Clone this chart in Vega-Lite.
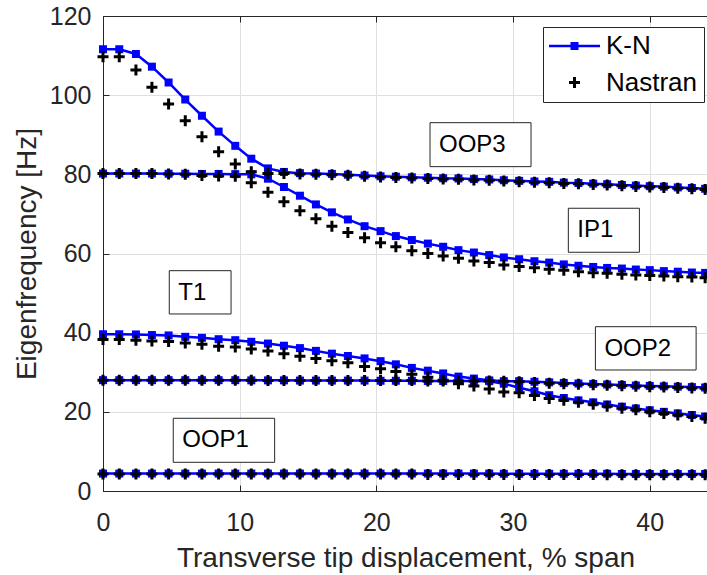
{
"$schema":"https://vega.github.io/schema/vega-lite/v6.json",
"width":605,"height":475,
"autosize":{"type":"none"},
"padding":{"left":103,"top":16,"right":0,"bottom":84},
"background":"white",
"config":{
 "view":{"stroke":null},
 "font":"Liberation Sans",
 "axis":{"domainColor":"#262626","domainWidth":1,"tickColor":"#262626","tickWidth":1,"labelColor":"#262626","labelFont":"Liberation Sans","labelFontSize":25,"titleFont":"Liberation Sans","titleFontSize":28,"titleFontWeight":"normal","titleColor":"#262626","gridColor":"#dfdfdf","gridWidth":1}
},
"resolve":{"axis":{"x":"independent"}},
"datasets":{
"notes":[
{"label":"OOP3","x0":23.93,"x1":31.32,"y0":93.05,"y1":81.94},
{"label":"IP1","x0":34.05,"x1":39.25,"y0":71.43,"y1":60.31},
{"label":"T1","x0":4.85,"x1":9.37,"y0":55.66,"y1":44.72},
{"label":"OOP2","x0":36.03,"x1":43.4,"y0":41.51,"y1":30.57},
{"label":"OOP1","x0":5.14,"x1":12.56,"y0":18.37,"y1":7.25}
],
"pts":[
{"s":"K-N","m":1,"x":0,"f":4.4},{"s":"K-N","m":1,"x":1.19,"f":4.4},{"s":"K-N","m":1,"x":2.41,"f":4.4},{"s":"K-N","m":1,"x":3.58,"f":4.4},{"s":"K-N","m":1,"x":4.8,"f":4.4},{"s":"K-N","m":1,"x":6.02,"f":4.4},{"s":"K-N","m":1,"x":7.24,"f":4.4},{"s":"K-N","m":1,"x":8.46,"f":4.4},{"s":"K-N","m":1,"x":9.68,"f":4.4},{"s":"K-N","m":1,"x":10.85,"f":4.4},
{"s":"K-N","m":1,"x":12.07,"f":4.4},{"s":"K-N","m":1,"x":13.24,"f":4.4},{"s":"K-N","m":1,"x":14.41,"f":4.4},{"s":"K-N","m":1,"x":15.58,"f":4.4},{"s":"K-N","m":1,"x":16.75,"f":4.4},{"s":"K-N","m":1,"x":17.92,"f":4.4},{"s":"K-N","m":1,"x":19.14,"f":4.4},{"s":"K-N","m":1,"x":20.31,"f":4.4},{"s":"K-N","m":1,"x":21.43,"f":4.4},{"s":"K-N","m":1,"x":22.6,"f":4.4},
{"s":"K-N","m":1,"x":23.77,"f":4.4},{"s":"K-N","m":1,"x":24.89,"f":4.4},{"s":"K-N","m":1,"x":26.01,"f":4.4},{"s":"K-N","m":1,"x":27.14,"f":4.4},{"s":"K-N","m":1,"x":28.26,"f":4.4},{"s":"K-N","m":1,"x":29.33,"f":4.35},{"s":"K-N","m":1,"x":30.45,"f":4.35},{"s":"K-N","m":1,"x":31.57,"f":4.35},{"s":"K-N","m":1,"x":32.65,"f":4.35},{"s":"K-N","m":1,"x":33.72,"f":4.35},
{"s":"K-N","m":1,"x":34.79,"f":4.35},{"s":"K-N","m":1,"x":35.87,"f":4.35},{"s":"K-N","m":1,"x":36.89,"f":4.35},{"s":"K-N","m":1,"x":37.97,"f":4.3},{"s":"K-N","m":1,"x":38.99,"f":4.3},{"s":"K-N","m":1,"x":40.01,"f":4.3},{"s":"K-N","m":1,"x":41.04,"f":4.3},{"s":"K-N","m":1,"x":42.06,"f":4.3},{"s":"K-N","m":1,"x":43.09,"f":4.3},{"s":"K-N","m":1,"x":44.06,"f":4.3},
{"s":"K-N","m":2,"x":0,"f":28},{"s":"K-N","m":2,"x":1.19,"f":28},{"s":"K-N","m":2,"x":2.41,"f":28},{"s":"K-N","m":2,"x":3.58,"f":28},{"s":"K-N","m":2,"x":4.8,"f":28},{"s":"K-N","m":2,"x":6.02,"f":28},{"s":"K-N","m":2,"x":7.24,"f":28},{"s":"K-N","m":2,"x":8.46,"f":28},{"s":"K-N","m":2,"x":9.68,"f":28},{"s":"K-N","m":2,"x":10.85,"f":27.95},
{"s":"K-N","m":2,"x":12.07,"f":27.95},{"s":"K-N","m":2,"x":13.24,"f":27.95},{"s":"K-N","m":2,"x":14.41,"f":27.9},{"s":"K-N","m":2,"x":15.58,"f":27.9},{"s":"K-N","m":2,"x":16.75,"f":27.9},{"s":"K-N","m":2,"x":17.92,"f":27.9},{"s":"K-N","m":2,"x":19.14,"f":27.9},{"s":"K-N","m":2,"x":20.31,"f":27.85},{"s":"K-N","m":2,"x":21.43,"f":27.85},{"s":"K-N","m":2,"x":22.6,"f":27.85},
{"s":"K-N","m":2,"x":23.77,"f":27.8},{"s":"K-N","m":2,"x":24.89,"f":27.8},{"s":"K-N","m":2,"x":26.01,"f":27.8},{"s":"K-N","m":2,"x":27.14,"f":27.8},{"s":"K-N","m":2,"x":28.26,"f":27.75},{"s":"K-N","m":2,"x":29.33,"f":27.1},{"s":"K-N","m":2,"x":30.45,"f":26.1},{"s":"K-N","m":2,"x":31.57,"f":25.2},{"s":"K-N","m":2,"x":32.65,"f":24.2},{"s":"K-N","m":2,"x":33.72,"f":23.5},
{"s":"K-N","m":2,"x":34.79,"f":22.9},{"s":"K-N","m":2,"x":35.87,"f":22.4},{"s":"K-N","m":2,"x":36.89,"f":21.85},{"s":"K-N","m":2,"x":37.97,"f":21.3},{"s":"K-N","m":2,"x":38.99,"f":20.85},{"s":"K-N","m":2,"x":40.01,"f":20.4},{"s":"K-N","m":2,"x":41.04,"f":20.0},{"s":"K-N","m":2,"x":42.06,"f":19.6},{"s":"K-N","m":2,"x":43.09,"f":19.2},{"s":"K-N","m":2,"x":44.06,"f":18.8},
{"s":"K-N","m":3,"x":0,"f":39.6},{"s":"K-N","m":3,"x":1.19,"f":39.6},{"s":"K-N","m":3,"x":2.41,"f":39.55},{"s":"K-N","m":3,"x":3.58,"f":39.4},{"s":"K-N","m":3,"x":4.8,"f":39.3},{"s":"K-N","m":3,"x":6.02,"f":38.95},{"s":"K-N","m":3,"x":7.24,"f":38.7},{"s":"K-N","m":3,"x":8.46,"f":38.35},{"s":"K-N","m":3,"x":9.68,"f":38.1},{"s":"K-N","m":3,"x":10.85,"f":37.7},
{"s":"K-N","m":3,"x":12.07,"f":37.25},{"s":"K-N","m":3,"x":13.24,"f":36.7},{"s":"K-N","m":3,"x":14.41,"f":36.1},{"s":"K-N","m":3,"x":15.58,"f":35.4},{"s":"K-N","m":3,"x":16.75,"f":34.7},{"s":"K-N","m":3,"x":17.92,"f":34.1},{"s":"K-N","m":3,"x":19.14,"f":33.5},{"s":"K-N","m":3,"x":20.31,"f":32.8},{"s":"K-N","m":3,"x":21.43,"f":32.0},{"s":"K-N","m":3,"x":22.6,"f":31.1},
{"s":"K-N","m":3,"x":23.77,"f":30.4},{"s":"K-N","m":3,"x":24.89,"f":29.7},{"s":"K-N","m":3,"x":26.01,"f":28.9},{"s":"K-N","m":3,"x":27.14,"f":28.4},{"s":"K-N","m":3,"x":28.26,"f":27.95},{"s":"K-N","m":3,"x":29.33,"f":27.75},{"s":"K-N","m":3,"x":30.45,"f":27.75},{"s":"K-N","m":3,"x":31.57,"f":27.6},{"s":"K-N","m":3,"x":32.65,"f":27.45},{"s":"K-N","m":3,"x":33.72,"f":27.3},
{"s":"K-N","m":3,"x":34.79,"f":27.15},{"s":"K-N","m":3,"x":35.87,"f":27.05},{"s":"K-N","m":3,"x":36.89,"f":26.9},{"s":"K-N","m":3,"x":37.97,"f":26.8},{"s":"K-N","m":3,"x":38.99,"f":26.65},{"s":"K-N","m":3,"x":40.01,"f":26.55},{"s":"K-N","m":3,"x":41.04,"f":26.45},{"s":"K-N","m":3,"x":42.06,"f":26.35},{"s":"K-N","m":3,"x":43.09,"f":26.25},{"s":"K-N","m":3,"x":44.06,"f":26.15},
{"s":"K-N","m":4,"x":0,"f":80.2},{"s":"K-N","m":4,"x":1.19,"f":80.2},{"s":"K-N","m":4,"x":2.41,"f":80.2},{"s":"K-N","m":4,"x":3.58,"f":80.2},{"s":"K-N","m":4,"x":4.8,"f":80.15},{"s":"K-N","m":4,"x":6.02,"f":80.15},{"s":"K-N","m":4,"x":7.24,"f":80.1},{"s":"K-N","m":4,"x":8.46,"f":80.1},{"s":"K-N","m":4,"x":9.68,"f":80.05},{"s":"K-N","m":4,"x":10.85,"f":80.0},
{"s":"K-N","m":4,"x":12.07,"f":78.9},{"s":"K-N","m":4,"x":13.24,"f":76.8},{"s":"K-N","m":4,"x":14.41,"f":74.6},{"s":"K-N","m":4,"x":15.58,"f":72.4},{"s":"K-N","m":4,"x":16.75,"f":70.4},{"s":"K-N","m":4,"x":17.92,"f":68.6},{"s":"K-N","m":4,"x":19.14,"f":66.9},{"s":"K-N","m":4,"x":20.31,"f":65.65},{"s":"K-N","m":4,"x":21.43,"f":64.4},{"s":"K-N","m":4,"x":22.6,"f":63.4},
{"s":"K-N","m":4,"x":23.77,"f":62.5},{"s":"K-N","m":4,"x":24.89,"f":61.7},{"s":"K-N","m":4,"x":26.01,"f":60.85},{"s":"K-N","m":4,"x":27.14,"f":60.25},{"s":"K-N","m":4,"x":28.26,"f":59.6},{"s":"K-N","m":4,"x":29.33,"f":59.0},{"s":"K-N","m":4,"x":30.45,"f":58.55},{"s":"K-N","m":4,"x":31.57,"f":58.05},{"s":"K-N","m":4,"x":32.65,"f":57.7},{"s":"K-N","m":4,"x":33.72,"f":57.25},
{"s":"K-N","m":4,"x":34.79,"f":56.9},{"s":"K-N","m":4,"x":35.87,"f":56.6},{"s":"K-N","m":4,"x":36.89,"f":56.35},{"s":"K-N","m":4,"x":37.97,"f":56.2},{"s":"K-N","m":4,"x":38.99,"f":55.95},{"s":"K-N","m":4,"x":40.01,"f":55.8},{"s":"K-N","m":4,"x":41.04,"f":55.55},{"s":"K-N","m":4,"x":42.06,"f":55.4},{"s":"K-N","m":4,"x":43.09,"f":55.2},{"s":"K-N","m":4,"x":44.06,"f":55.1},
{"s":"K-N","m":5,"x":0,"f":111.6},{"s":"K-N","m":5,"x":1.19,"f":111.6},{"s":"K-N","m":5,"x":2.41,"f":110.4},{"s":"K-N","m":5,"x":3.58,"f":107.2},{"s":"K-N","m":5,"x":4.8,"f":103.2},{"s":"K-N","m":5,"x":6.02,"f":98.9},{"s":"K-N","m":5,"x":7.24,"f":94.8},{"s":"K-N","m":5,"x":8.46,"f":90.8},{"s":"K-N","m":5,"x":9.68,"f":87.2},{"s":"K-N","m":5,"x":10.85,"f":83.95},
{"s":"K-N","m":5,"x":12.07,"f":81.5},{"s":"K-N","m":5,"x":13.24,"f":80.6},{"s":"K-N","m":5,"x":14.41,"f":80.3},{"s":"K-N","m":5,"x":15.58,"f":80.2},{"s":"K-N","m":5,"x":16.75,"f":80.1},{"s":"K-N","m":5,"x":17.92,"f":79.9},{"s":"K-N","m":5,"x":19.14,"f":79.7},{"s":"K-N","m":5,"x":20.31,"f":79.5},{"s":"K-N","m":5,"x":21.43,"f":79.4},{"s":"K-N","m":5,"x":22.6,"f":79.25},
{"s":"K-N","m":5,"x":23.77,"f":79.15},{"s":"K-N","m":5,"x":24.89,"f":79.0},{"s":"K-N","m":5,"x":26.01,"f":78.95},{"s":"K-N","m":5,"x":27.14,"f":78.8},{"s":"K-N","m":5,"x":28.26,"f":78.7},{"s":"K-N","m":5,"x":29.33,"f":78.5},{"s":"K-N","m":5,"x":30.45,"f":78.35},{"s":"K-N","m":5,"x":31.57,"f":78.2},{"s":"K-N","m":5,"x":32.65,"f":78.1},{"s":"K-N","m":5,"x":33.72,"f":77.9},
{"s":"K-N","m":5,"x":34.79,"f":77.8},{"s":"K-N","m":5,"x":35.87,"f":77.65},{"s":"K-N","m":5,"x":36.89,"f":77.5},{"s":"K-N","m":5,"x":37.97,"f":77.3},{"s":"K-N","m":5,"x":38.99,"f":77.15},{"s":"K-N","m":5,"x":40.01,"f":77.0},{"s":"K-N","m":5,"x":41.04,"f":76.9},{"s":"K-N","m":5,"x":42.06,"f":76.7},{"s":"K-N","m":5,"x":43.09,"f":76.55},{"s":"K-N","m":5,"x":44.06,"f":76.35},
{"s":"Nastran","m":1,"x":0,"f":4.3},{"s":"Nastran","m":1,"x":1.19,"f":4.3},{"s":"Nastran","m":1,"x":2.41,"f":4.3},{"s":"Nastran","m":1,"x":3.58,"f":4.3},{"s":"Nastran","m":1,"x":4.8,"f":4.3},{"s":"Nastran","m":1,"x":6.02,"f":4.3},{"s":"Nastran","m":1,"x":7.24,"f":4.3},{"s":"Nastran","m":1,"x":8.46,"f":4.3},{"s":"Nastran","m":1,"x":9.68,"f":4.3},{"s":"Nastran","m":1,"x":10.85,"f":4.3},
{"s":"Nastran","m":1,"x":12.07,"f":4.3},{"s":"Nastran","m":1,"x":13.24,"f":4.3},{"s":"Nastran","m":1,"x":14.41,"f":4.3},{"s":"Nastran","m":1,"x":15.58,"f":4.3},{"s":"Nastran","m":1,"x":16.75,"f":4.3},{"s":"Nastran","m":1,"x":17.92,"f":4.3},{"s":"Nastran","m":1,"x":19.14,"f":4.3},{"s":"Nastran","m":1,"x":20.31,"f":4.3},{"s":"Nastran","m":1,"x":21.43,"f":4.3},{"s":"Nastran","m":1,"x":22.6,"f":4.3},
{"s":"Nastran","m":1,"x":23.77,"f":4.2},{"s":"Nastran","m":1,"x":24.89,"f":4.2},{"s":"Nastran","m":1,"x":26.01,"f":4.2},{"s":"Nastran","m":1,"x":27.14,"f":4.2},{"s":"Nastran","m":1,"x":28.26,"f":4.2},{"s":"Nastran","m":1,"x":29.33,"f":4.2},{"s":"Nastran","m":1,"x":30.45,"f":4.2},{"s":"Nastran","m":1,"x":31.57,"f":4.2},{"s":"Nastran","m":1,"x":32.65,"f":4.2},{"s":"Nastran","m":1,"x":33.72,"f":4.2},
{"s":"Nastran","m":1,"x":34.79,"f":4.2},{"s":"Nastran","m":1,"x":35.87,"f":4.2},{"s":"Nastran","m":1,"x":36.89,"f":4.1},{"s":"Nastran","m":1,"x":37.97,"f":4.1},{"s":"Nastran","m":1,"x":38.99,"f":4.1},{"s":"Nastran","m":1,"x":40.01,"f":4.1},{"s":"Nastran","m":1,"x":41.04,"f":4.1},{"s":"Nastran","m":1,"x":42.06,"f":4.1},{"s":"Nastran","m":1,"x":43.09,"f":4.1},{"s":"Nastran","m":1,"x":44.06,"f":4.1},
{"s":"Nastran","m":2,"x":0,"f":38.3},{"s":"Nastran","m":2,"x":1.19,"f":38.3},{"s":"Nastran","m":2,"x":2.41,"f":38.1},{"s":"Nastran","m":2,"x":3.58,"f":37.9},{"s":"Nastran","m":2,"x":4.8,"f":37.8},{"s":"Nastran","m":2,"x":6.02,"f":37.4},{"s":"Nastran","m":2,"x":7.24,"f":37.1},{"s":"Nastran","m":2,"x":8.46,"f":36.6},{"s":"Nastran","m":2,"x":9.68,"f":36.4},{"s":"Nastran","m":2,"x":10.85,"f":35.9},
{"s":"Nastran","m":2,"x":12.07,"f":35.4},{"s":"Nastran","m":2,"x":13.24,"f":34.7},{"s":"Nastran","m":2,"x":14.41,"f":34.05},{"s":"Nastran","m":2,"x":15.58,"f":33.5},{"s":"Nastran","m":2,"x":16.75,"f":32.9},{"s":"Nastran","m":2,"x":17.92,"f":32.4},{"s":"Nastran","m":2,"x":19.14,"f":31.45},{"s":"Nastran","m":2,"x":20.31,"f":30.9},{"s":"Nastran","m":2,"x":21.43,"f":30.2},{"s":"Nastran","m":2,"x":22.6,"f":29.5},
{"s":"Nastran","m":2,"x":23.77,"f":28.75},{"s":"Nastran","m":2,"x":24.89,"f":27.98},{"s":"Nastran","m":2,"x":26.01,"f":27.1},{"s":"Nastran","m":2,"x":27.14,"f":26.5},{"s":"Nastran","m":2,"x":28.26,"f":25.8},{"s":"Nastran","m":2,"x":29.33,"f":25.03},{"s":"Nastran","m":2,"x":30.45,"f":24.8},{"s":"Nastran","m":2,"x":31.57,"f":24.1},{"s":"Nastran","m":2,"x":32.65,"f":23.4},{"s":"Nastran","m":2,"x":33.72,"f":22.9},
{"s":"Nastran","m":2,"x":34.79,"f":22.4},{"s":"Nastran","m":2,"x":35.87,"f":21.9},{"s":"Nastran","m":2,"x":36.89,"f":21.4},{"s":"Nastran","m":2,"x":37.97,"f":20.9},{"s":"Nastran","m":2,"x":38.99,"f":20.5},{"s":"Nastran","m":2,"x":40.01,"f":20.0},{"s":"Nastran","m":2,"x":41.04,"f":19.6},{"s":"Nastran","m":2,"x":42.06,"f":19.2},{"s":"Nastran","m":2,"x":43.09,"f":18.8},{"s":"Nastran","m":2,"x":44.06,"f":18.4},
{"s":"Nastran","m":3,"x":0,"f":27.95},{"s":"Nastran","m":3,"x":1.19,"f":27.95},{"s":"Nastran","m":3,"x":2.41,"f":27.95},{"s":"Nastran","m":3,"x":3.58,"f":27.95},{"s":"Nastran","m":3,"x":4.8,"f":27.95},{"s":"Nastran","m":3,"x":6.02,"f":27.95},{"s":"Nastran","m":3,"x":7.24,"f":27.95},{"s":"Nastran","m":3,"x":8.46,"f":27.95},{"s":"Nastran","m":3,"x":9.68,"f":27.95},{"s":"Nastran","m":3,"x":10.85,"f":27.95},
{"s":"Nastran","m":3,"x":12.07,"f":27.9},{"s":"Nastran","m":3,"x":13.24,"f":27.9},{"s":"Nastran","m":3,"x":14.41,"f":27.9},{"s":"Nastran","m":3,"x":15.58,"f":27.9},{"s":"Nastran","m":3,"x":16.75,"f":27.9},{"s":"Nastran","m":3,"x":17.92,"f":27.9},{"s":"Nastran","m":3,"x":19.14,"f":27.9},{"s":"Nastran","m":3,"x":20.31,"f":27.9},{"s":"Nastran","m":3,"x":21.43,"f":27.9},{"s":"Nastran","m":3,"x":22.6,"f":27.9},
{"s":"Nastran","m":3,"x":23.77,"f":27.8},{"s":"Nastran","m":3,"x":24.89,"f":27.8},{"s":"Nastran","m":3,"x":26.01,"f":27.8},{"s":"Nastran","m":3,"x":27.14,"f":27.8},{"s":"Nastran","m":3,"x":28.26,"f":27.8},{"s":"Nastran","m":3,"x":29.33,"f":27.7},{"s":"Nastran","m":3,"x":30.45,"f":27.6},{"s":"Nastran","m":3,"x":31.57,"f":27.4},{"s":"Nastran","m":3,"x":32.65,"f":27.25},{"s":"Nastran","m":3,"x":33.72,"f":27.1},
{"s":"Nastran","m":3,"x":34.79,"f":26.95},{"s":"Nastran","m":3,"x":35.87,"f":26.85},{"s":"Nastran","m":3,"x":36.89,"f":26.7},{"s":"Nastran","m":3,"x":37.97,"f":26.6},{"s":"Nastran","m":3,"x":38.99,"f":26.45},{"s":"Nastran","m":3,"x":40.01,"f":26.35},{"s":"Nastran","m":3,"x":41.04,"f":26.25},{"s":"Nastran","m":3,"x":42.06,"f":26.15},{"s":"Nastran","m":3,"x":43.09,"f":26.05},{"s":"Nastran","m":3,"x":44.06,"f":25.95},
{"s":"Nastran","m":4,"x":0,"f":80.2},{"s":"Nastran","m":4,"x":1.19,"f":80.2},{"s":"Nastran","m":4,"x":2.41,"f":80.2},{"s":"Nastran","m":4,"x":3.58,"f":80.2},{"s":"Nastran","m":4,"x":4.8,"f":80.1},{"s":"Nastran","m":4,"x":6.02,"f":80.0},{"s":"Nastran","m":4,"x":7.24,"f":79.7},{"s":"Nastran","m":4,"x":8.46,"f":79.6},{"s":"Nastran","m":4,"x":9.68,"f":79.5},{"s":"Nastran","m":4,"x":10.85,"f":77.9},
{"s":"Nastran","m":4,"x":12.07,"f":75.5},{"s":"Nastran","m":4,"x":13.24,"f":73.1},{"s":"Nastran","m":4,"x":14.41,"f":70.8},{"s":"Nastran","m":4,"x":15.58,"f":68.8},{"s":"Nastran","m":4,"x":16.75,"f":66.9},{"s":"Nastran","m":4,"x":17.92,"f":65.3},{"s":"Nastran","m":4,"x":19.14,"f":64.0},{"s":"Nastran","m":4,"x":20.31,"f":62.7},{"s":"Nastran","m":4,"x":21.43,"f":61.7},{"s":"Nastran","m":4,"x":22.6,"f":60.7},
{"s":"Nastran","m":4,"x":23.77,"f":60.0},{"s":"Nastran","m":4,"x":24.89,"f":59.4},{"s":"Nastran","m":4,"x":26.01,"f":58.8},{"s":"Nastran","m":4,"x":27.14,"f":58.1},{"s":"Nastran","m":4,"x":28.26,"f":57.7},{"s":"Nastran","m":4,"x":29.33,"f":57.1},{"s":"Nastran","m":4,"x":30.45,"f":56.7},{"s":"Nastran","m":4,"x":31.57,"f":56.4},{"s":"Nastran","m":4,"x":32.65,"f":56.0},{"s":"Nastran","m":4,"x":33.72,"f":55.75},
{"s":"Nastran","m":4,"x":34.79,"f":55.4},{"s":"Nastran","m":4,"x":35.87,"f":55.15},{"s":"Nastran","m":4,"x":36.89,"f":55.0},{"s":"Nastran","m":4,"x":37.97,"f":54.75},{"s":"Nastran","m":4,"x":38.99,"f":54.55},{"s":"Nastran","m":4,"x":40.01,"f":54.45},{"s":"Nastran","m":4,"x":41.04,"f":54.3},{"s":"Nastran","m":4,"x":42.06,"f":54.15},{"s":"Nastran","m":4,"x":43.09,"f":54.05},{"s":"Nastran","m":4,"x":44.06,"f":53.9},
{"s":"Nastran","m":5,"x":0,"f":109.7},{"s":"Nastran","m":5,"x":1.19,"f":109.7},{"s":"Nastran","m":5,"x":2.41,"f":106.35},{"s":"Nastran","m":5,"x":3.58,"f":102.0},{"s":"Nastran","m":5,"x":4.8,"f":97.75},{"s":"Nastran","m":5,"x":6.02,"f":93.55},{"s":"Nastran","m":5,"x":7.24,"f":89.5},{"s":"Nastran","m":5,"x":8.46,"f":85.7},{"s":"Nastran","m":5,"x":9.68,"f":82.6},{"s":"Nastran","m":5,"x":10.85,"f":80.65},
{"s":"Nastran","m":5,"x":12.07,"f":80.2},{"s":"Nastran","m":5,"x":13.24,"f":80.2},{"s":"Nastran","m":5,"x":14.41,"f":80.1},{"s":"Nastran","m":5,"x":15.58,"f":80.0},{"s":"Nastran","m":5,"x":16.75,"f":79.9},{"s":"Nastran","m":5,"x":17.92,"f":79.8},{"s":"Nastran","m":5,"x":19.14,"f":79.5},{"s":"Nastran","m":5,"x":20.31,"f":79.3},{"s":"Nastran","m":5,"x":21.43,"f":79.2},{"s":"Nastran","m":5,"x":22.6,"f":79.05},
{"s":"Nastran","m":5,"x":23.77,"f":78.95},{"s":"Nastran","m":5,"x":24.89,"f":78.8},{"s":"Nastran","m":5,"x":26.01,"f":78.75},{"s":"Nastran","m":5,"x":27.14,"f":78.6},{"s":"Nastran","m":5,"x":28.26,"f":78.5},{"s":"Nastran","m":5,"x":29.33,"f":78.3},{"s":"Nastran","m":5,"x":30.45,"f":78.15},{"s":"Nastran","m":5,"x":31.57,"f":78.0},{"s":"Nastran","m":5,"x":32.65,"f":77.9},{"s":"Nastran","m":5,"x":33.72,"f":77.7},
{"s":"Nastran","m":5,"x":34.79,"f":77.6},{"s":"Nastran","m":5,"x":35.87,"f":77.45},{"s":"Nastran","m":5,"x":36.89,"f":77.3},{"s":"Nastran","m":5,"x":37.97,"f":77.1},{"s":"Nastran","m":5,"x":38.99,"f":76.95},{"s":"Nastran","m":5,"x":40.01,"f":76.8},{"s":"Nastran","m":5,"x":41.04,"f":76.7},{"s":"Nastran","m":5,"x":42.06,"f":76.5},{"s":"Nastran","m":5,"x":43.09,"f":76.35},{"s":"Nastran","m":5,"x":44.06,"f":76.15}
]},
"layer":[
{"data":{"name":"notes"},
 "mark":{"type":"rect","fill":"white","stroke":"#262626","strokeWidth":1},
 "encoding":{
  "x":{"field":"x0","type":"quantitative","scale":{"domain":[0,44.27],"nice":false,"zero":false},
       "axis":{"orient":"bottom","values":[0,10,20,30,40],"title":"Transverse tip displacement, % span","tickSize":-6,"labelPadding":25,"labelFlush":false,"grid":true,"titlePadding":9}},
  "x2":{"field":"x1"},
  "y":{"field":"y0","type":"quantitative","scale":{"domain":[0,120],"nice":false},
       "axis":{"values":[0,20,40,60,80,100,120],"title":"Eigenfrequency [Hz]","tickSize":-6,"labelPadding":18,"labelFlush":false,"grid":true,"titlePadding":8}},
  "y2":{"field":"y1"}}},
{"data":{"name":"notes"},
 "mark":{"type":"text","align":"left","baseline":"middle","dx":9,"dy":22,"fontSize":24,"font":"Liberation Sans","color":"#000000"},
 "encoding":{
  "x":{"field":"x0","type":"quantitative","scale":{"domain":[0,44.27],"nice":false,"zero":false},
       "axis":{"orient":"top","values":[0,10,20,30,40],"labels":false,"title":null,"tickSize":-6,"grid":false}},
  "y":{"field":"y0","type":"quantitative","scale":{"domain":[0,120],"nice":false},
       "axis":{"values":[0,20,40,60,80,100,120],"title":"Eigenfrequency [Hz]","tickSize":-6,"labelPadding":18,"labelFlush":false,"grid":true,"titlePadding":8}},
  "text":{"field":"label"}}},
{"data":{"name":"pts"},
 "transform":[{"filter":"datum.s === 'K-N'"}],
 "mark":{"type":"line","color":"#0000ff","strokeWidth":2.5},
 "encoding":{
  "x":{"field":"x","type":"quantitative","scale":{"domain":[0,44.27],"nice":false,"zero":false},"axis":null},
  "y":{"field":"f","type":"quantitative","scale":{"domain":[0,120],"nice":false},
       "axis":{"values":[0,20,40,60,80,100,120],"title":"Eigenfrequency [Hz]","tickSize":-6,"labelPadding":18,"labelFlush":false,"grid":true,"titlePadding":8}},
  "detail":{"field":"m","type":"nominal"}}},
{"data":{"name":"pts"},
 "transform":[{"filter":"datum.s === 'K-N'"}],
 "mark":{"type":"point","filled":true,"opacity":1,"size":100,"strokeWidth":0,"fill":"#0000ff","shape":"M-0.8,-0.8H0.8V0.8H-0.8Z"},
 "encoding":{
  "x":{"field":"x","type":"quantitative","scale":{"domain":[0,44.27],"nice":false,"zero":false},"axis":null},
  "y":{"field":"f","type":"quantitative","scale":{"domain":[0,120],"nice":false},
       "axis":{"values":[0,20,40,60,80,100,120],"title":"Eigenfrequency [Hz]","tickSize":-6,"labelPadding":18,"labelFlush":false,"grid":true,"titlePadding":8}}}},
{"data":{"name":"pts"},
 "transform":[{"filter":"datum.s === 'Nastran'"}],
 "mark":{"type":"point","filled":true,"opacity":1,"size":100,"strokeWidth":0},
 "encoding":{
  "x":{"field":"x","type":"quantitative","scale":{"domain":[0,44.27],"nice":false,"zero":false},"axis":null},
  "y":{"field":"f","type":"quantitative","scale":{"domain":[0,120],"nice":false},
       "axis":{"values":[0,20,40,60,80,100,120],"title":"Eigenfrequency [Hz]","tickSize":-6,"labelPadding":18,"labelFlush":false,"grid":true,"titlePadding":8}},
  "fill":{"field":"s","type":"nominal","scale":{"domain":["K-N","Nastran"],"range":["#0000ff","#000000"]},
   "legend":{"orient":"none","legendX":440,"legendY":11,"title":null,"strokeColor":"#262626","fillColor":"white","padding":6,"labelFontSize":26,"labelFont":"Liberation Sans","labelColor":"#000000","labelOffset":18.5,"symbolOffset":12.5,"rowPadding":10.6,"symbolSize":100,"symbolStrokeWidth":0,"symbolOpacity":1}},
  "shape":{"field":"s","type":"nominal","scale":{"domain":["K-N","Nastran"],"range":["M-5.1,-0.25H5.1V0.25H-5.1ZM-0.8,-0.8H0.8V0.8H-0.8Z","M-1.1,-0.3H-0.3V-1.1H0.3V-0.3H1.1V0.3H0.3V1.1H-0.3V0.3H-1.1Z"]},
   "legend":{"orient":"none","legendX":440,"legendY":11,"title":null,"strokeColor":"#262626","fillColor":"white","padding":6,"labelFontSize":26,"labelFont":"Liberation Sans","labelColor":"#000000","labelOffset":18.5,"symbolOffset":12.5,"rowPadding":10.6,"symbolSize":100,"symbolStrokeWidth":0,"symbolOpacity":1}}}}
]
}
